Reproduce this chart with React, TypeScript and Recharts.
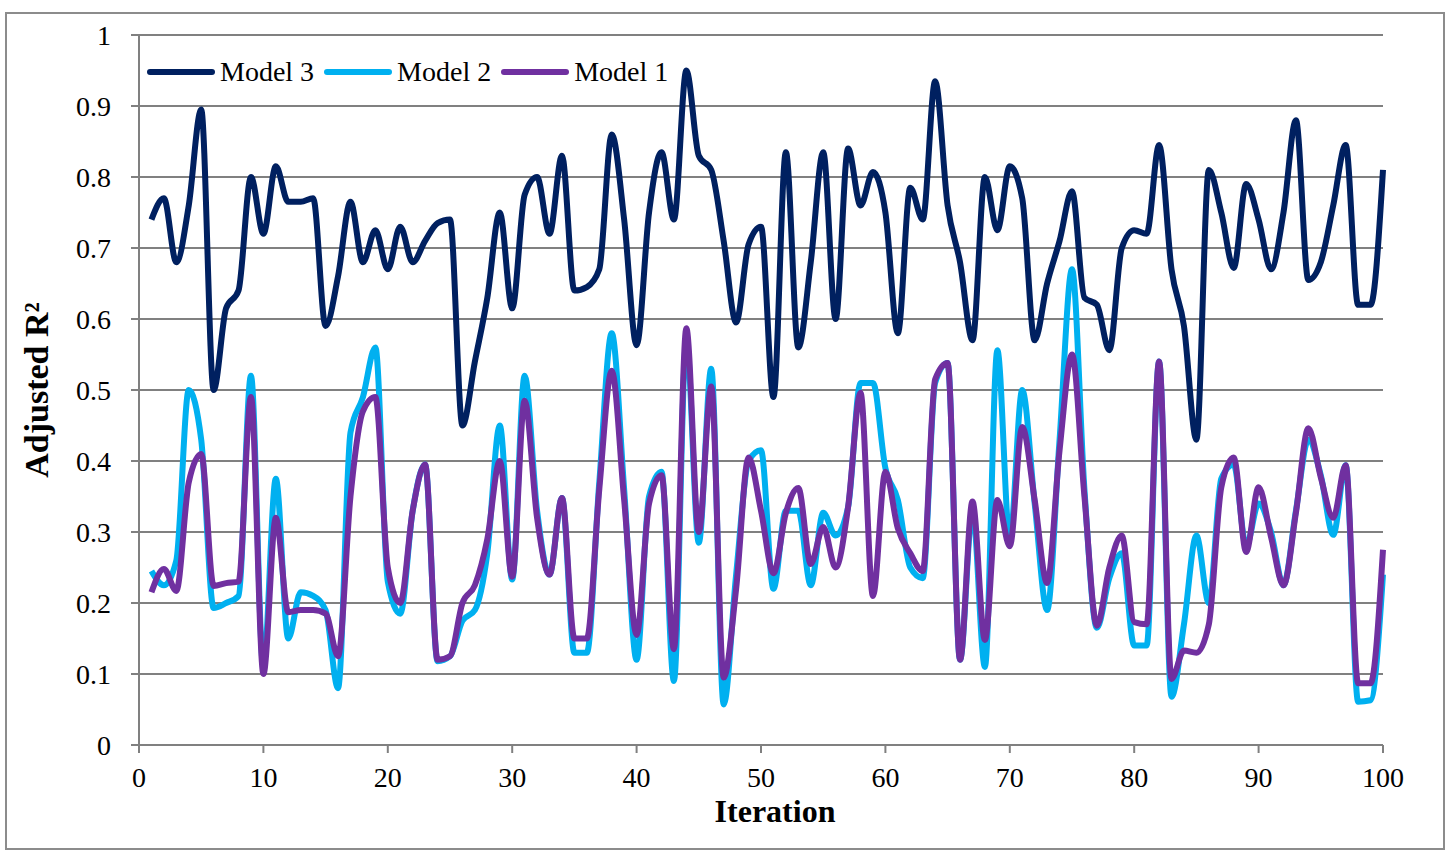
import React from 'react';
import { LineChart, Line, XAxis, YAxis, CartesianGrid, Legend } from 'recharts';

// Adjusted R² per iteration
const model3: number[] = [
  0.74, 0.77, 0.68, 0.76, 0.895, 0.5, 0.615, 0.64, 0.8, 0.72,
  0.815, 0.765, 0.765, 0.77, 0.59, 0.66, 0.765, 0.68, 0.725, 0.67,
  0.73, 0.68, 0.71, 0.735, 0.74, 0.45, 0.54, 0.63, 0.75, 0.615,
  0.775, 0.8, 0.72, 0.83, 0.64, 0.645, 0.67, 0.86, 0.74, 0.563,
  0.75, 0.835, 0.74, 0.95, 0.83, 0.81, 0.71, 0.595, 0.705, 0.73,
  0.49, 0.835, 0.56, 0.68, 0.835, 0.6, 0.84, 0.76, 0.807, 0.75,
  0.58, 0.785, 0.74, 0.935, 0.76, 0.68, 0.57, 0.8, 0.725, 0.815,
  0.77, 0.57, 0.65, 0.71, 0.78, 0.63, 0.62, 0.556, 0.7, 0.725,
  0.72, 0.845, 0.67, 0.59, 0.43, 0.81, 0.75, 0.672, 0.79, 0.74,
  0.67, 0.75, 0.88, 0.655, 0.68, 0.76, 0.845, 0.62, 0.62, 0.81,
];

const model2: number[] = [
  0.245, 0.225, 0.26, 0.5, 0.43, 0.193, 0.2, 0.21, 0.52, 0.11,
  0.375, 0.15, 0.215, 0.21, 0.19, 0.08, 0.44, 0.49, 0.56, 0.23,
  0.185, 0.33, 0.395, 0.118, 0.125, 0.175, 0.19, 0.27, 0.45, 0.233,
  0.52, 0.33, 0.24, 0.348, 0.13, 0.13, 0.37, 0.58, 0.36, 0.12,
  0.35, 0.385, 0.09, 0.57, 0.285, 0.53, 0.057, 0.24, 0.4, 0.415,
  0.22, 0.33, 0.33, 0.225, 0.327, 0.295, 0.335, 0.51, 0.51, 0.39,
  0.345, 0.25, 0.235, 0.51, 0.538, 0.12, 0.33, 0.11, 0.556, 0.29,
  0.5, 0.34, 0.19, 0.43, 0.67, 0.36, 0.165, 0.235, 0.27, 0.14,
  0.14, 0.54, 0.068, 0.17, 0.295, 0.2, 0.375, 0.395, 0.28, 0.34,
  0.3, 0.225, 0.33, 0.43, 0.38, 0.296, 0.394, 0.061, 0.063, 0.24,
];

const model1: number[] = [
  0.215, 0.248, 0.217, 0.37, 0.41, 0.224, 0.228, 0.23, 0.49, 0.1,
  0.32, 0.187, 0.19, 0.19, 0.185, 0.125, 0.35, 0.47, 0.49, 0.25,
  0.2, 0.33, 0.395, 0.12, 0.125, 0.2, 0.225, 0.29, 0.4, 0.237,
  0.485, 0.32, 0.24, 0.348, 0.15, 0.15, 0.36, 0.527, 0.345, 0.155,
  0.34, 0.38, 0.135, 0.587, 0.3, 0.505, 0.095, 0.22, 0.405, 0.33,
  0.242, 0.327, 0.362, 0.255, 0.307, 0.25, 0.335, 0.496, 0.21, 0.385,
  0.305, 0.27, 0.245, 0.515, 0.538, 0.12, 0.343, 0.148, 0.345, 0.28,
  0.448, 0.345, 0.228, 0.415, 0.55, 0.35, 0.168, 0.25, 0.295, 0.173,
  0.17, 0.54, 0.093, 0.133, 0.13, 0.17, 0.363, 0.405, 0.272, 0.363,
  0.293, 0.225, 0.327, 0.446, 0.377, 0.32, 0.394, 0.087, 0.087, 0.275,
];

const xTicks = [0, 10, 20, 30, 40, 50, 60, 70, 80, 90, 100];
const yTicks = [0, 0.1, 0.2, 0.3, 0.4, 0.5, 0.6, 0.7, 0.8, 0.9, 1];
const legendOrder = ['Model 3', 'Model 2', 'Model 1'];

const data = model3.map((v, i) => ({
  iter: i + 1,
  m3: v,
  m2: model2[i],
  m1: model1[i],
}));

const FONT = '"Liberation Serif", "Times New Roman", serif';
const GRID = '#808080';

const renderLegend = (props: any) => {
  const items = [...(props.payload || [])].sort(
    (a: any, b: any) => legendOrder.indexOf(a.value) - legendOrder.indexOf(b.value)
  );
  return (
    <div style={{ display: 'flex', alignItems: 'center', fontFamily: FONT, fontSize: 28, color: '#000' }}>
      {items.map((entry: any) => (
        <div key={entry.value} style={{ display: 'flex', alignItems: 'center', marginRight: 10 }}>
          <span
            style={{
              display: 'inline-block',
              width: 68,
              height: 6,
              borderRadius: 3,
              background: entry.color,
              marginRight: 5,
            }}
          />
          <span>{entry.value}</span>
        </div>
      ))}
    </div>
  );
};

const App: React.FC = () => {
  return (
    <div style={{ position: 'absolute', left: 0, top: 0, width: 1456, height: 859, background: '#fff' }}>
      <div
        style={{
          position: 'absolute',
          left: 5,
          top: 12,
          width: 1436,
          height: 834,
          border: '2px solid #8c8c8c',
        }}
      />
      <LineChart
        width={1456}
        height={859}
        data={data}
        margin={{ top: 35, right: 73, left: 0, bottom: 14 }}
        style={{ fontFamily: FONT }}
      >
        <CartesianGrid horizontal vertical={false} stroke={GRID} strokeWidth={2} />
        <XAxis
          dataKey="iter"
          type="number"
          domain={[0, 100]}
          ticks={xTicks}
          height={100}
          stroke={GRID}
          strokeWidth={2}
          tickSize={8}
          tickMargin={14}
          tick={{ fill: '#000', fontSize: 28, fontFamily: FONT }}
          label={{
            value: 'Iteration',
            position: 'insideBottom',
            offset: 23,
            dx: 14,
            style: { fill: '#000', fontSize: 32, fontWeight: 'bold', fontFamily: FONT },
          }}
        />
        <YAxis
          domain={[0, 1]}
          ticks={yTicks}
          width={139}
          stroke={GRID}
          strokeWidth={2}
          tickSize={8}
          tickMargin={20}
          tick={{ fill: '#000', fontSize: 28, fontFamily: FONT }}
          label={{
            value: 'Adjusted R²',
            angle: -90,
            position: 'insideLeft',
            offset: 36,
            style: { fill: '#000', fontSize: 34, fontWeight: 'bold', fontFamily: FONT, textAnchor: 'middle' },
          }}
        />
        <Legend
          layout="horizontal"
          verticalAlign="middle"
          align="center"
          content={renderLegend}
          wrapperStyle={{ top: 56, left: 147, width: 700 }}
        />
        <Line
          name="Model 3"
          dataKey="m3"
          type="monotone"
          stroke="#002060"
          strokeWidth={6}
          dot={false}
          activeDot={false}
          isAnimationActive={false}
        />
        <Line
          name="Model 2"
          dataKey="m2"
          type="monotone"
          stroke="#00B0F0"
          strokeWidth={6}
          dot={false}
          activeDot={false}
          isAnimationActive={false}
        />
        <Line
          name="Model 1"
          dataKey="m1"
          type="monotone"
          stroke="#7030A0"
          strokeWidth={6}
          dot={false}
          activeDot={false}
          isAnimationActive={false}
        />
      </LineChart>
    </div>
  );
};

export default App;
